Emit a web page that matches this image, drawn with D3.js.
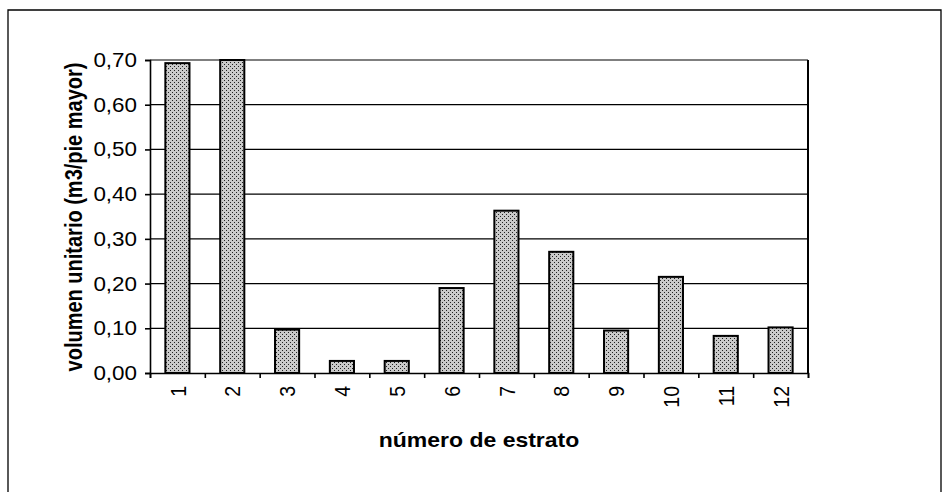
<!doctype html>
<html>
<head>
<script src="https://d3js.org/d3.v7.min.js"></script>
<style>
  body { margin: 0; background: #fff; }
  text { font-family: "Liberation Sans", Arial, sans-serif; fill: #000; }
</style>
</head>
<body>
<svg width="942" height="492" id="chart"></svg>
<script>
// data
var estratos = ["1", "2", "3", "4", "5", "6", "7", "8", "9", "10", "11", "12"];
var volumen = [0.693, 0.70, 0.097, 0.027, 0.027, 0.19, 0.363, 0.271, 0.095, 0.215, 0.083, 0.102];
var yTicks = [0, 0.1, 0.2, 0.3, 0.4, 0.5, 0.6, 0.7];

var svg = d3.select("#chart");
var sx = 1.15; // the scan is a bit wider than tall, text looks stretched

// outer frame
svg.append("path")
  .attr("d", "M8,500 L8,10 L941,10 L941,500")
  .attr("fill", "none")
  .attr("stroke", "#000")
  .attr("stroke-width", 1.3);

// dotted fill like the print
var defs = svg.append("defs");
var pat = defs.append("pattern")
  .attr("id", "dots")
  .attr("width", 4).attr("height", 4)
  .attr("patternUnits", "userSpaceOnUse");
pat.append("rect").attr("width", 4).attr("height", 4).attr("fill", "#cacaca");
[[0, 0], [2, 2]].forEach(function (p) {
  pat.append("rect").attr("x", p[0]).attr("y", p[1]).attr("width", 1).attr("height", 1).attr("fill", "#222");
});

var plotL = 150, plotR = 808, plotT = 60, plotB = 373;

var x = d3.scaleBand().domain(estratos).range([plotL, plotR]).paddingInner(0.56).paddingOuter(0.28);
var y = d3.scaleLinear().domain([0, 0.7]).range([plotB, plotT]);
var fmt = function (d) { return d3.format(".2f")(d).replace(".", ","); };

// gridlines
svg.append("g")
  .selectAll("line")
  .data(yTicks.slice(1))
  .join("line")
  .attr("x1", plotL).attr("x2", plotR)
  .attr("y1", function (d) { return y(d); })
  .attr("y2", function (d) { return y(d); })
  .attr("stroke", "#000")
  .attr("stroke-width", 1.2);

// right border of the plot
svg.append("line")
  .attr("x1", plotR).attr("x2", plotR).attr("y1", plotT).attr("y2", plotB)
  .attr("stroke", "#000").attr("stroke-width", 2);

// bars
svg.append("g")
  .selectAll("rect")
  .data(volumen)
  .join("rect")
  .attr("x", function (d, i) { return x(estratos[i]); })
  .attr("y", function (d) { return y(d); })
  .attr("width", x.bandwidth())
  .attr("height", function (d) { return y(0) - y(d); })
  .attr("fill", "url(#dots)")
  .attr("stroke", "#000")
  .attr("stroke-width", 2);

// y axis
var yAxis = svg.append("g")
  .attr("transform", "translate(" + plotL + ",0)")
  .call(d3.axisLeft(y).tickValues(yTicks).tickSize(5).tickFormat(""));
yAxis.selectAll("path, line").attr("stroke", "#000").attr("stroke-width", 1.6);

svg.append("g")
  .selectAll("text")
  .data(yTicks)
  .join("text")
  .attr("transform", function (d) { return "translate(137," + y(d) + ") scale(" + sx + ",1)"; })
  .attr("dy", "0.36em")
  .attr("text-anchor", "end")
  .style("font-size", "19.5px")
  .text(fmt);

// x axis, ticks between the categories
var xLin = d3.scaleLinear().domain([0, estratos.length]).range([plotL, plotR]);
var xAxis = svg.append("g")
  .attr("transform", "translate(0," + plotB + ")")
  .call(d3.axisBottom(xLin).tickValues(d3.range(0, estratos.length + 1)).tickSize(5).tickFormat(""));
xAxis.selectAll("path, line").attr("stroke", "#000").attr("stroke-width", 1.6);

svg.append("g")
  .selectAll("text")
  .data(estratos)
  .join("text")
  .attr("transform", function (d) {
    return "translate(" + (x(d) + x.bandwidth() / 2) + ",386) scale(" + sx + ",1) rotate(-90)";
  })
  .attr("dy", "0.36em")
  .attr("text-anchor", "end")
  .style("font-size", "19.5px")
  .text(function (d) { return d; });

// axis titles
svg.append("text")
  .attr("transform", "translate(" + ((plotL + plotR) / 2) + ",447) scale(" + sx + ",1)")
  .attr("text-anchor", "middle")
  .style("font-size", "20px")
  .style("font-weight", "bold")
  .text("número de estrato");

svg.append("text")
  .attr("transform", "translate(82,217) scale(" + sx + ",1) rotate(-90)")
  .attr("text-anchor", "middle")
  .style("font-size", "20px")
  .style("font-weight", "bold")
  .text("volumen unitario (m3/pie mayor)");
</script>
</body>
</html>
